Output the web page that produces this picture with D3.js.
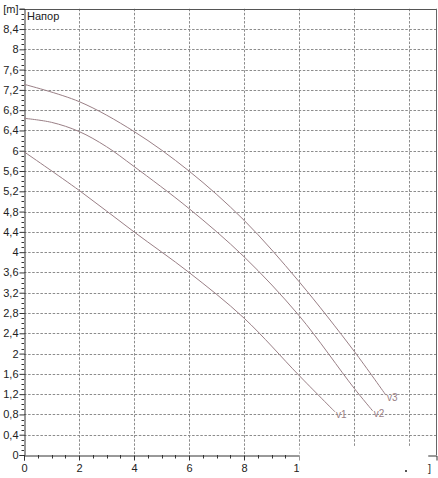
<!DOCTYPE html>
<html><head><meta charset="utf-8">
<script src="https://cdn.jsdelivr.net/npm/d3@7"></script>
<style>body{margin:0;background:#fff}svg{display:block}text{font-family:"Liberation Sans",Arial,sans-serif}</style>
</head><body><svg id="c" width="438" height="478"></svg>
<script>
const xTicks = [0,2,4,6,8,10,12,14];
const yTicks = [0,0.4,0.8,1.2,1.6,2,2.4,2.8,3.2,3.6,4,4.4,4.8,5.2,5.6,6,6.4,6.8,7.2,7.6,8,8.4,8.8];
const yTickLabels = ["0","0,4","0,8","1,2","1,6","2","2,4","2,8","3,2","3,6","4","4,4","4,8","5,2","5,6","6","6,4","6,8","7,2","7,6","8","8,4","[m]"];
const seriesNames = ["v1","v2","v3"];
const q1 = [0,2,4,6,8,10,11.31];
const h1 = [5.98,5.22,4.4,3.6,2.7,1.57,0.85];
const q2 = [0,1,2,3,4,6,8,10,12,12.68];
const h2 = [6.64,6.56,6.38,6.08,5.69,4.86,3.91,2.75,1.32,0.87];
const q3 = [0,2,4,6,8,10,12,13.16];
const h3 = [7.31,6.97,6.38,5.6,4.63,3.42,2.05,1.18];
const yTitle = "Напор";

const svg = d3.select("#c");
const x = d3.scaleLinear().domain([0,15]).range([24,436.5]);
const y = d3.scaleLinear().domain([0,8.8]).range([455,8.75]);
const gridCol = "#8c8c8c";
const curveCol = "#9a7f86";

// grid
svg.append("g").selectAll("line").data(yTicks.slice(1,-1)).join("line")
  .attr("x1",x(0)).attr("x2",x(15)).attr("y1",d=>Math.round(y(d))+0.5).attr("y2",d=>Math.round(y(d))+0.5)
  .attr("stroke",gridCol).attr("stroke-dasharray","2.5,1.6");
svg.append("g").selectAll("line").data(xTicks.slice(1)).join("line")
  .attr("y1",y(8.8)).attr("y2",y(0)).attr("x1",d=>Math.round(x(d))+0.5).attr("x2",d=>Math.round(x(d))+0.5)
  .attr("stroke",gridCol).attr("stroke-dasharray","2.5,1.6");

// frame top/right
svg.append("line").attr("x1",x(0)).attr("x2",x(15)).attr("y1",Math.round(y(8.8))+0.5).attr("y2",Math.round(y(8.8))+0.5).attr("stroke","#555");
svg.append("line").attr("x1",Math.round(x(15))-0.5).attr("x2",Math.round(x(15))-0.5).attr("y1",y(8.8)).attr("y2",y(0)).attr("stroke","#666");

// y axis
const yAxis = d3.axisLeft(y).tickValues(yTicks).tickFormat((d,i)=>yTickLabels[i]).tickSize(5).tickPadding(1);
const gy = svg.append("g").attr("transform",`translate(${Math.round(x(0))+0.5},0)`).call(yAxis);
gy.select(".domain").attr("stroke","#333");
gy.selectAll(".tick line").attr("stroke","#333");
gy.selectAll(".tick text").attr("font-size",11).attr("fill","#222").style("font-family","'Liberation Sans',Arial,sans-serif");
const yMinor = d3.range(0,88).map(i=>i/10).filter(v=>Math.abs(v*10/4-Math.round(v*10/4))>1e-6);
svg.append("g").selectAll("line").data(yMinor).join("line")
  .attr("x1",Math.round(x(0))-2.5).attr("x2",Math.round(x(0))).attr("y1",d=>Math.round(y(d))+0.5).attr("y2",d=>Math.round(y(d))+0.5).attr("stroke","#333");

// x axis
const xAxis = d3.axisBottom(x).tickValues(xTicks).tickFormat(d3.format("d")).tickSize(5).tickPadding(4);
const gx = svg.append("g").attr("transform",`translate(0,${Math.round(y(0))+0.5})`).call(xAxis);
gx.select(".domain").attr("stroke","#333");
gx.selectAll(".tick line").attr("stroke","#333");
gx.selectAll(".tick text").attr("font-size",11).attr("fill","#222").style("font-family","'Liberation Sans',Arial,sans-serif");
const xMinor = d3.range(0,30).map(i=>i/2).filter(v=>v%2!==0);
svg.append("g").selectAll("line").data(xMinor).join("line")
  .attr("x1",d=>Math.round(x(d))+0.5).attr("x2",d=>Math.round(x(d))+0.5).attr("y1",Math.round(y(0))).attr("y2",Math.round(y(0))+3.5).attr("stroke","#333");

// titles
svg.append("text").attr("x",27).attr("y",20).attr("font-size",11).attr("fill","#222").text(yTitle);

// curves
const line = d3.line().x(d=>x(d[0])).y(d=>y(d[1])).curve(d3.curveCatmullRom.alpha(0.5));
const series = [[q1,h1],[q2,h2],[q3,h3]];
series.forEach((s,i)=>{
  const pts = s[0].map((q,j)=>[q,s[1][j]]);
  svg.append("path").datum(pts).attr("d",line).attr("fill","none").attr("stroke",curveCol).attr("stroke-width",1);
  const last = pts[pts.length-1];
  svg.append("text").attr("x",x(last[0])+1).attr("y",y(last[1])+6).attr("font-size",10).attr("fill",curveCol).text(seriesNames[i]);
});

// cover patch at bottom right (as in the reference image)
svg.append("rect").attr("x",x(10)+0.5).attr("y",y(0.16)).attr("width",x(14.7)-x(10)-0.5).attr("height",478-y(0.16)).attr("fill","#fff");
svg.append("text").attr("x",428).attr("y",472).attr("font-size",11).attr("fill","#333").text("]");
svg.append("rect").attr("x",405).attr("y",470).attr("width",2).attr("height",2).attr("fill","#555");
</script></body></html>
